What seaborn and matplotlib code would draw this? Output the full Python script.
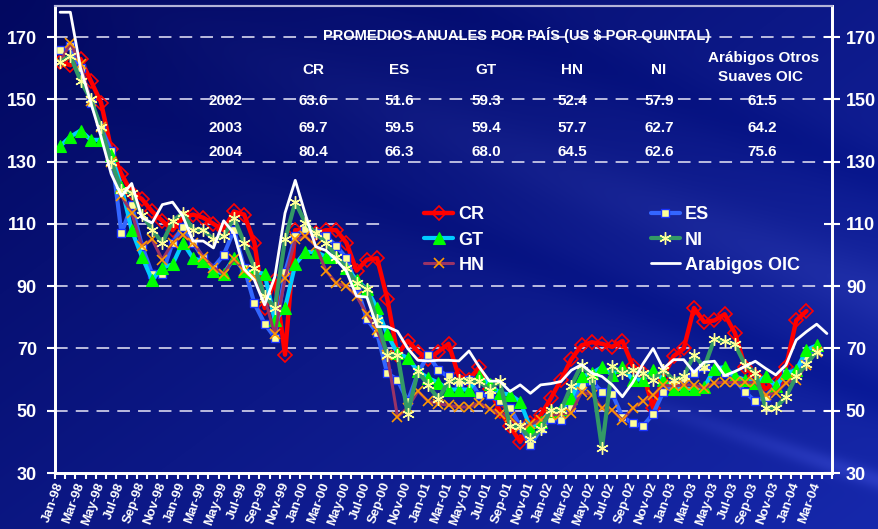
import numpy as np
import pandas as pd
import matplotlib
matplotlib.use('Agg')
import matplotlib.pyplot as plt
import seaborn as sns

# monthly axis Jan-98 .. Apr-04
months = pd.date_range('1998-01-01', periods=76, freq='MS').strftime('%b-%y').tolist()

# monthly prices (US $ per quintal)
cr = [162, 161, 163, 156, 149, 134, 126, 120, 118, 114, 111, 108,
      112, 113, 112, 110, 108, 114, 113, 104, 83, 92, 68, 108,
      108, 107, 108, 108, 104, 95, 98.5, 99, 86, 68, 72.5, 69,
      66.5, 69, 71.5, 61, 60, 64, 57, 50, 45, 40, 46, 48.5,
      54, 60, 66.5, 71, 72, 71.5, 70.5, 72.4, 64.5, 62, 51, 61,
      67.5, 70, 83, 78.5, 79, 81, 75, 64, 61, 57, 59, 64,
      79, 82]
es = [166, 167, 160, 149, 141, 133.5, 107, 116, 103, 94, 94, 104,
      109, 104, 99, 96, 100, 108, 96, 84.5, 78, 73.5, 94.5, 106,
      108.5, 107, 106, 103, 99, 90, 79.5, 75, 62, 60, 53, 62,
      68, 63, 61, 59, 60, 55, 55, 53, 51, 45, 39, 44,
      47.5, 47, 51, 58, 59.5, 56, 55.5, 48, 46, 45, 49, 56,
      58.5, 60.5, 62, 64, 63, 62, 60, 56, 53, 54.5, 58, 62,
      62.5, 67.5, 69.5]
gt = [135, 138, 140, 137, 137, 132, 122, 108, 99.5, 92, 96, 97,
      104, 99, 98, 95, 94, 99, 95, 94.5, 94, 79, 83, 97,
      101, 101, 99.5, 99.5, 96, 92, 89, 83, 74.5, 68.5, 67, 62.7,
      60.5, 59, 56.8, 56.8, 56.8, 61, 58.5, 55.7, 55.2, 52.9, 44.5, 46.4,
      50, 50.5, 54, 61, 62, 64, 61.5, 64, 60, 60, 63, 60,
      57, 57, 57, 57.5, 63.5, 64, 61, 60, 59, 61, 58, 62,
      63, 69.5, 71]
hn = [162, 168, 161.5, 149.5, 141, 130, 119, 113.5, 103, 105, 98.5, 104,
      106.5, 104, 99.5, 96, 94, 98.8, 95, 93, 86.3, 74.5, 92.5, 105,
      106, 103, 95, 91, 90, 86.8, 81, 75.8, 68, 48, 51, 56.3,
      53, 52.3, 51.7, 51.2, 51.2, 52.5, 50.5, 49, 48, 44.7, 45.6, 47,
      48.5, 49, 49.3, 56, 55.2, 50.8, 50.2, 47, 50.8, 53, 55, 58.3,
      57.8, 58.3, 58.3, 57.2, 58.9, 59.1, 59.1, 59.1, 59.1, 55.1, 55.6, 58.9,
      60, 64.8, 69]
ni = [162, 164, 156, 150, 141, 130, 121, 120, 113, 108.2, 103.9, 110.9,
      113.5, 108.2, 108.2, 105, 106, 112, 104, 96, 87, 83, 105, 117,
      110.3, 107, 104, 99.5, 95.8, 91, 89.2, 79, 68, 68, 49, 62.7,
      58.2, 53.8, 59.5, 60, 59.6, 59.4, 56.8, 59.5, 45, 45, 40.8, 44,
      50.3, 50.3, 58, 64.8, 61, 38, 64.3, 62.1, 63.2, 62.1, 59.9, 63.2,
      59.9, 61, 68, 64, 73, 72.4, 71.3, 64.8, 62.1, 51, 51, 54.5,
      61, 65, 69]
oic = [178, 178, 160, 149, 138, 126, 119, 123, 112, 110.3, 116.2, 117,
       112.5, 104.5, 104.5, 102.3, 111, 107, 95.5, 92, 84, 93, 113.5, 124,
       113, 102.7, 101.5, 98.5, 94.8, 86.8, 86.5, 77, 77, 75.5, 70, 66.2,
       66, 66.2, 66.2, 66, 69.2, 64, 59.5, 59.5, 56.2, 58.3, 55.6, 58.3,
       58.7, 59.4, 63, 64.8, 62.1, 61, 58.3, 54.5, 59, 65, 70, 63.5,
       66.4, 66.4, 62.3, 65.6, 65.9, 61.3, 62.6, 64.2, 65.9, 63.6, 61.5, 64.7,
       72.7, 75.4, 77.8, 74.8]

# annual averages table
table_title = 'PROMEDIOS ANUALES POR PAÍS (US $ POR QUINTAL)'
table_cols = ['CR', 'ES', 'GT', 'HN', 'NI']
table_years = ['2002', '2003', '2004']
table_vals = [['63.6', '51.6', '59.3', '52.4', '57.9', '61.5'],
              ['69.7', '59.5', '59.4', '57.7', '62.7', '64.2'],
              ['80.4', '66.3', '68.0', '64.5', '62.6', '75.6']]

yticks = list(range(30, 171, 20))

sns.set_theme(style='ticks')
plt.rcParams['font.family'] = ['Liberation Sans', 'DejaVu Sans']
plt.rcParams['font.weight'] = 'bold'

W, H = 879, 529
fig = plt.figure(figsize=(W / 100, H / 100), dpi=100)

# slide style background: dark navy gradient with diagonal streaks
bg = fig.add_axes([0, 0, 1, 1], zorder=-10)
yy, xx = np.mgrid[0:H, 0:W]
t = np.clip(0.55 * xx / W + 0.45 * yy / H, 0, 1)
c0 = np.array([2, 8, 96]) / 255
c1 = np.array([22, 40, 172]) / 255
img = c0 + (c1 - c0) * t[..., None]
d = yy - 0.38 * xx
streak = (0.05 * np.exp(-((d + 40) / 35) ** 2) - 0.04 * np.exp(-((d - 60) / 25) ** 2)
          - 0.03 * np.exp(-((d + 160) / 30) ** 2))
streak = streak * (xx / W)
light = 0.10 * np.exp(-((yy - 0.33 * xx - 190) / 10) ** 2) * np.clip((xx - 560) / 300, 0, 1)
img = np.clip(img + streak[..., None] + light[..., None] * np.array([0.8, 0.8, 1.0]), 0, 1)
bg.imshow(img, aspect='auto', extent=[0, 1, 0, 1], origin='upper')
bg.axis('off')

ax = fig.add_axes([55 / W, 1 - 473 / H, 777 / W, 467 / H])
ax.set_facecolor('none')

styles = [
    ('CR', cr, dict(color='#ff0000', linewidth=3.2, marker='D', markersize=7,
                    markerfacecolor='none', markeredgecolor='#ff0000', markeredgewidth=1.2)),
    ('ES', es, dict(color='#3366ff', linewidth=3.0, marker='s', markersize=6,
                    markerfacecolor='#ffff99', markeredgecolor='#1a33ff', markeredgewidth=1.0)),
    ('GT', gt, dict(color='#00ccff', linewidth=3.0, marker='^', markersize=8,
                    markerfacecolor='#00ff00', markeredgecolor='#00ff00', markeredgewidth=0.8)),
    ('HN', hn, dict(color='#993366', linewidth=2.2, marker='x', markersize=7,
                    markerfacecolor='#ff9900', markeredgecolor='#ff9900', markeredgewidth=1.2)),
    ('NI', ni, dict(color='#339966', linewidth=3.0, marker=(6, 2, 0), markersize=9,
                    markerfacecolor='#ffff99', markeredgecolor='#ffff99', markeredgewidth=1.0)),
    ('Arabigos OIC', oic, dict(color='white', linewidth=2.0)),
]

for i, (name, vals, kw) in enumerate(styles):
    sns.lineplot(x=np.arange(len(vals)), y=vals, ax=ax, label=name, zorder=3 + i, **kw)

# dashed gridlines (the 110 one is hidden behind the legend box)
for v in yticks[1:]:
    ax.axhline(v, xmax=0.425 if v == 110 else 1, color='#c8c8e6',
               linewidth=1.3, linestyle=(0, (7, 4.5)), zorder=1)

ax.set_xlim(-0.5, 75.5)
ax.set_ylim(30, 180)
ax.set_yticks(yticks)
ax.set_yticklabels([str(v) for v in yticks], fontsize=13, color='white', fontweight='bold')
ax.set_xticks(np.arange(0, 76, 2))
ax.set_xticklabels(months[::2], rotation=70, ha='right', va='center',
                   rotation_mode='anchor', fontsize=9.5, color='white', fontweight='bold')
ax.set_xticks(np.arange(-0.5, 76, 1), minor=True)
ax.tick_params(axis='x', which='major', length=0, pad=7)
ax.tick_params(axis='x', which='minor', length=4, width=1.5, color='white', direction='out')
ax.tick_params(axis='y', length=6, width=1.5, color='white', direction='out', pad=7)
ax.set_xlabel('')
ax.set_ylabel('')

ax2 = ax.twinx()
ax2.set_ylim(30, 180)
ax2.set_yticks(yticks)
ax2.set_yticklabels([str(v) for v in yticks], fontsize=13, color='white', fontweight='bold')
ax2.tick_params(axis='y', length=12, width=1.5, color='white', direction='inout', pad=4)

for a in (ax, ax2):
    for s in ('left', 'bottom', 'right'):
        a.spines[s].set_color('white')
        a.spines[s].set_linewidth(2)
    a.spines['top'].set_color('#b4b4d8')
    a.spines['top'].set_linewidth(1.5)

handles, labels = ax.get_legend_handles_labels()
order = [0, 2, 3, 1, 4, 5]
leg = ax.legend([handles[i] for i in order], [labels[i] for i in order], ncol=2,
                loc='upper left', bbox_to_anchor=(0.4545, 0.6056), frameon=False,
                prop={'family': 'Liberation Sans', 'weight': 'bold', 'size': 13},
                labelcolor='white', handlelength=1.6, handletextpad=0.3,
                columnspacing=9.2, labelspacing=0.45, numpoints=1)
leg.set_zorder(20)


def px(x, y):
    return x / W, 1 - y / H


txt = dict(color='white', fontweight='bold', ha='center', va='center', zorder=30)
fig.text(*px(517, 35), table_title, fontsize=10.5, **txt)
col_x = [313, 399, 486, 572, 659, 762]
for cx, name in zip(col_x, table_cols):
    fig.text(*px(cx, 70), name, fontsize=11, **txt)
fig.text(*px(764, 58), 'Arábigos Otros', fontsize=11, **txt)
fig.text(*px(761, 77), 'Suaves OIC', fontsize=11, **txt)
row_y = [101, 128, 152]
for ry, year, row in zip(row_y, table_years, table_vals):
    fig.text(*px(226, ry), year, fontsize=11, **txt)
    for cx, val in zip(col_x, row):
        fig.text(*px(cx, ry), val, fontsize=11, **txt)

fig.savefig('out.png', dpi=100)
